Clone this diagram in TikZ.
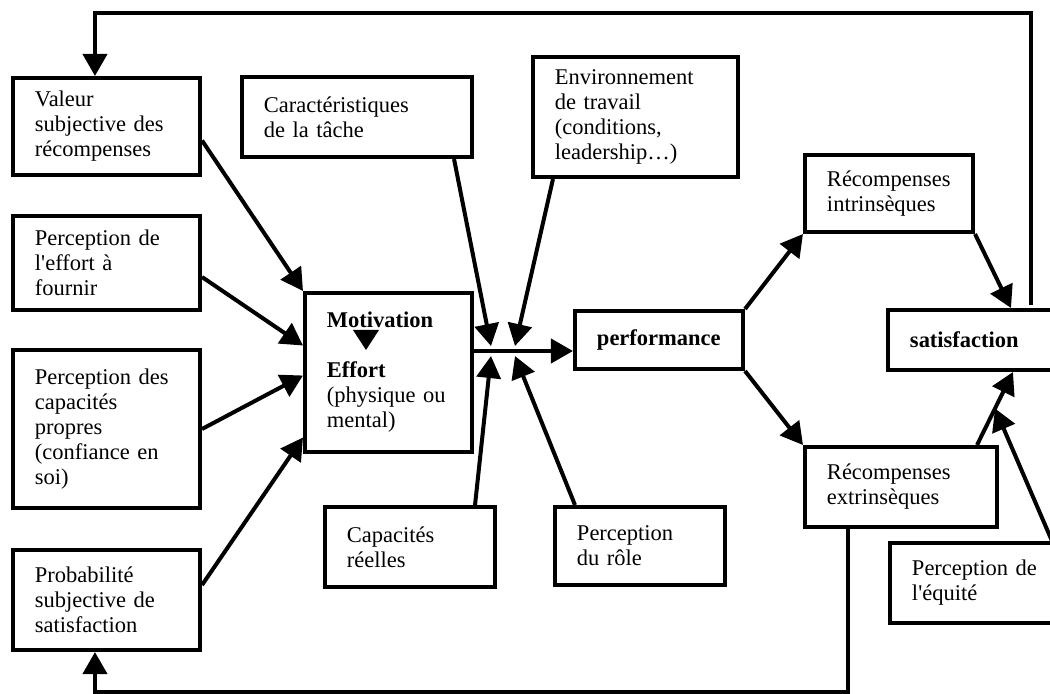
\documentclass[tikz,border=0pt]{standalone}
\usepackage{fontspec}
\setmainfont{Liberation Serif}
\usetikzlibrary{arrows.meta,calc}
\tikzset{
	% boxes of the diagram
	boite/.style={draw=black,line width=0.1cm,align=left,
		inner xsep=0.55cm,inner ysep=0pt,
		font=\fontsize{16}{17.8}\selectfont},
	% thick connector with a big filled tip
	fleche/.style={line width=0.1cm,-{Triangle[length=0.55cm,width=0.6cm]}},
}
\begin{document}
\begin{tikzpicture}[x=0.025cm,y=-0.025cm]
		\useasboundingbox (0,0) rectangle (1050,693);
		\node[boite,minimum width=4.675cm,minimum height=2.425cm,text width=3.575cm] (valeur) at (106.5,126.5) {Valeur\\subjective des\\récompenses};
		\node[boite,minimum width=4.675cm,minimum height=2.35cm,text width=3.575cm] (effortp) at (106.5,263) {Perception de\\l\textquotesingle effort à\\fournir};
		\node[boite,minimum width=4.675cm,minimum height=3.95cm,text width=3.575cm] (capap) at (106.5,429) {Perception des\\capacités\\propres\\(confiance en\\soi)};
		\node[boite,minimum width=4.675cm,minimum height=2.5cm,text width=3.575cm] (proba) at (106.5,600) {Probabilité\\subjective de\\satisfaction};
		\node[boite,minimum width=5.75cm,minimum height=2cm,text width=4.65cm] (carac) at (357,117) {Caractéristiques\\de la tâche};
		\node[boite,minimum width=5.125cm,minimum height=3cm,text width=4.025cm] (envir) at (635.5,117) {Environnement\\de travail\\(conditions,\\leadership…)};
		\node[boite,minimum width=4.175cm,minimum height=3.975cm,text width=3.075cm] (motiv) at (388.5,372.5) {\textbf{Motivation}\\[0.62cm]\textbf{Effort}\\(physique ou\\mental)};
		\node[boite,minimum width=4.2cm,minimum height=1.45cm,text width=3.1cm] (perf) at (659,340) {\textbf{performance}};
		\node[boite,minimum width=4.2cm,minimum height=1.925cm,text width=3.1cm] (rint) at (889,193.5) {Récompenses\\intrinsèques};
		\node[boite,minimum width=4.55cm,minimum height=1.5cm,text width=3.45cm] (satis) at (979,340) {\textbf{satisfaction}};
		\node[boite,minimum width=4.8cm,minimum height=2cm,text width=3.7cm] (rext) at (901,487) {Récompenses\\extrinsèques};
		\node[boite,minimum width=4.25cm,minimum height=2cm,text width=3.15cm] (capreel) at (410,547) {Capacités\\réelles};
		\node[boite,minimum width=4.25cm,minimum height=1.95cm,text width=3.15cm] (role) at (640,546) {Perception\\du rôle};
		\node[boite,minimum width=4.5cm,minimum height=2cm,text width=3.4cm] (equite) at (980,583) {Perception de\\l\textquotesingle équité};
		\fill ($(motiv.north west)+(50,39)$) -- ++(26,0) -- ++(-13,20) -- cycle;
		\coordinate (hub) at (503,351);
		\coordinate (haut) at (0,13);
		\coordinate (bas) at (0,692);
		% into motivation
		\draw[fleche] ($(valeur.east)+(0,14)$) -- (motiv.north west);
		\draw[fleche] ($(effortp.east)+(0,14)$) -- ($(motiv.west)+(0,-27)$);
		\draw[fleche] (capap.east) -- ($(motiv.west)+(0,3)$);
		\draw[fleche] ($(proba.east)+(0,-15)$) -- ($(motiv.west)+(0,65)$);
		% the four meeting at the hub
		\draw[fleche] ($(carac.south east)+(-20,0)$) -- ($(hub)+(-12,-5)$);
		\draw[fleche] ($(envir.south west)+(22,0)$) -- ($(hub)+(12,-5)$);
		\draw[fleche] ($(capreel.north east)+(-22,0)$) -- ($(hub)+(-12,5)$);
		\draw[fleche] ($(role.north west)+(22,0)$) -- ($(hub)+(12,5)$);
		\draw[fleche] (motiv.east |- hub) -- (perf.west |- hub);
		% rewards and satisfaction
		\draw[fleche] (perf.north east) -- (rint.south west);
		\draw[fleche] (perf.south east) -- (rext.north west);
		\draw[fleche] (rint.south east) -- ($(satis.north west)+(125,0)$);
		\coordinate (r2) at ($(rext.north east)+(-22,0)$);
		\coordinate (s2) at ($(satis.south west)+(127,0)$);
		\draw[fleche] (r2) -- (s2);
		\draw[fleche] ($(equite.north west)+(164,0)$) -- ($(r2)!0.5!(s2)$);
		% feedback loops
		\coordinate (s1) at ($(satis.north west)+(145,-3)$);
		\coordinate (v1) at ($(valeur.north west)+(84,0)$);
		\draw[fleche] (s1) -- (s1 |- haut) -| (v1);
		\coordinate (r1) at ($(rext.south west)+(45,0)$);
		\coordinate (p1) at ($(proba.south west)+(84,0)$);
		\draw[fleche] (r1) -- (r1 |- bas) -| (p1);
\end{tikzpicture}
\end{document}
